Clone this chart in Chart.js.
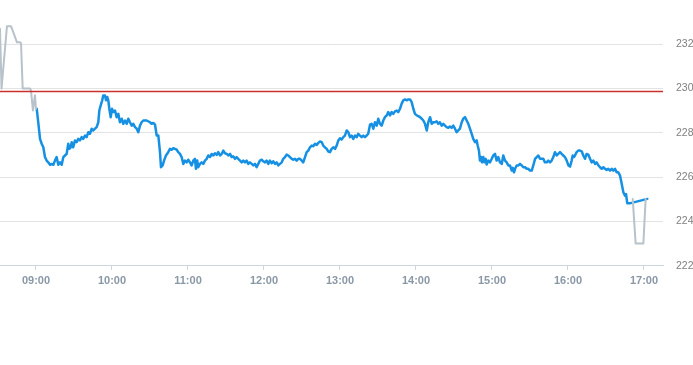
<!DOCTYPE html>
<html>
<head>
<meta charset="utf-8">
<script src="https://cdn.jsdelivr.net/npm/chart.js@4/dist/chart.umd.min.js"></script>
<style>
html,body{margin:0;padding:0;background:#fff;overflow:hidden;}
canvas{display:block;}
</style>
</head>
<body>
<canvas id="c" width="693" height="365"></canvas>
<script>
// Time values are minutes since midnight
const preMinutes = [511.6, 512.8, 517.1, 520.3, 525.0, 527.4, 528.2, 529.5, 535.3, 536.1, 537.6, 539.2, 540.0];
const preValues  = [232.70, 230.00, 232.82, 232.82, 232.09, 232.09, 232.05, 230.01, 230.01, 229.90, 229.01, 229.70, 229.09];

const postMinutes = [1011.1, 1013.4, 1019.5, 1021.3];
const postValues  = [225.02, 223.01, 223.01, 225.02];

const mainMinutes = [
540.6,541.8,543.2,544.5,545.8,547.1,548.4,549.7,551.1,552.4,553.7,555.0,556.3,557.6,558.9,560.3,561.6,562.9,564.2,565.5,
566.3,567.4,568.2,569.4,570.8,572.1,573.4,574.7,576.1,577.3,578.7,580.0,581.3,582.6,584.0,585.2,586.6,587.9,589.2,590.0,
591.1,592.3,593.1,594.5,595.3,596.3,597.1,597.9,599.0,600.0,601.0,602.4,603.7,605.0,606.3,607.7,608.9,610.3,611.6,612.9,
614.2,615.6,616.8,618.2,619.5,620.8,622.1,623.4,624.7,627.4,630.0,631.3,632.6,634.0,635.3,636.6,637.9,638.7,640.0,641.1,
642.6,644.4,645.8,647.1,648.4,649.7,651.1,652.3,653.7,655.0,656.3,657.6,659.0,660.2,661.6,662.9,664.2,665.5,666.3,667.3,
668.1,669.5,670.8,672.1,673.4,674.8,676.0,677.4,678.7,680.0,681.3,682.7,683.9,685.3,686.6,687.9,689.2,690.6,691.8,693.2,
694.5,695.8,697.1,698.4,699.7,701.1,702.4,703.7,705.0,706.3,707.6,708.9,710.3,711.6,712.9,714.2,715.5,716.8,718.2,719.4,
720.8,722.1,723.4,724.7,726.1,727.3,728.7,730.0,731.3,732.6,734.0,735.2,736.6,737.9,739.2,740.5,741.9,743.1,744.5,745.8,
747.1,748.4,749.8,751.0,752.4,753.7,755.0,756.3,757.7,758.9,760.3,761.6,762.9,764.2,765.6,766.8,768.2,769.5,770.8,772.1,
773.4,774.7,776.1,777.4,778.7,780.0,781.3,782.6,783.9,785.3,786.6,787.9,789.2,790.5,791.8,793.2,794.4,795.8,797.1,798.4,
799.7,801.1,802.3,803.7,805.0,806.3,807.6,809.0,810.2,811.6,812.9,814.2,815.5,816.9,818.1,819.5,820.8,822.1,823.4,824.8,
826.0,827.4,828.7,830.0,831.3,832.7,833.9,835.3,836.6,837.9,839.2,840.6,841.8,843.2,844.5,845.8,847.1,848.5,849.7,851.1,
852.4,853.7,855.0,856.3,857.6,858.9,860.3,861.6,862.9,864.2,865.5,866.8,868.2,869.4,870.8,872.1,873.4,874.7,876.1,877.3,
878.7,880.0,881.3,882.6,884.0,885.2,886.6,887.9,888.7,889.7,890.5,891.3,892.1,893.1,893.9,895.0,895.8,897.1,898.4,899.8,
901.0,902.4,903.7,905.0,906.3,907.7,908.9,910.3,911.6,912.9,914.2,915.6,916.4,917.4,918.2,919.5,920.8,922.1,923.5,924.7,
926.1,927.4,928.7,930.0,931.4,932.6,934.0,935.3,936.6,937.9,939.2,940.5,941.8,943.2,944.4,945.8,947.1,948.4,949.7,951.1,
952.3,953.7,955.0,956.3,957.6,959.0,960.3,961.6,962.9,963.7,964.7,965.5,966.8,968.1,969.5,970.8,972.1,973.4,974.7,976.0,
977.4,978.7,980.0,981.4,982.6,984.0,985.3,986.6,987.9,989.2,990.5,991.8,993.2,994.5,995.8,997.1,998.5,999.7,1001.1,1002.4,
1003.7,1005.0,1005.8,1006.8,1008.9,1010.3,1022.6
];
const mainValues = [
229.09,228.48,227.73,227.51,227.35,226.91,226.75,226.67,226.56,226.60,226.56,226.75,226.91,226.56,226.67,226.56,226.91,226.98,227.05,227.51,
227.28,227.35,227.58,227.35,227.66,227.58,227.73,227.66,227.81,227.73,227.88,227.81,228.03,227.96,228.19,228.11,228.19,228.26,228.48,229.01,
229.24,229.47,229.69,229.69,229.47,229.62,229.47,229.09,228.71,229.09,228.94,229.01,228.71,228.86,228.48,228.64,228.41,228.56,228.41,228.64,
228.48,228.33,228.41,228.26,228.19,228.03,228.33,228.48,228.56,228.56,228.48,228.41,228.45,228.37,227.88,227.88,227.13,226.45,226.53,226.75,
226.98,227.13,227.28,227.24,227.31,227.28,227.24,227.13,227.05,226.91,226.60,226.75,226.67,226.79,226.67,226.53,226.75,226.83,226.38,226.75,
226.45,226.60,226.67,226.60,226.75,226.83,226.98,226.91,227.05,226.98,227.08,227.01,227.13,226.98,227.05,227.20,227.08,227.05,226.98,227.05,
226.91,226.94,226.83,226.91,226.83,226.75,226.67,226.75,226.67,226.75,226.60,226.67,226.60,226.53,226.60,226.45,226.60,226.75,226.79,226.72,
226.67,226.75,226.60,226.75,226.63,226.72,226.60,226.67,226.53,226.60,226.67,226.83,226.91,227.02,226.98,226.91,226.83,226.79,226.83,226.75,
226.83,226.83,226.75,226.67,226.91,227.13,227.20,227.35,227.43,227.40,227.51,227.46,227.55,227.61,227.58,227.43,227.35,227.28,227.16,227.13,
227.28,227.35,227.28,227.43,227.66,227.76,227.70,227.81,227.88,228.11,228.03,227.81,227.88,227.73,227.88,227.81,227.96,227.88,227.81,227.88,
227.81,227.88,227.96,228.37,228.41,228.19,228.48,228.33,228.64,228.41,228.33,228.56,228.71,228.79,228.94,228.79,228.94,228.86,228.97,229.01,
228.94,229.09,229.32,229.47,229.51,229.47,229.51,229.51,229.39,229.09,228.86,228.79,228.76,228.71,228.64,228.56,228.41,228.11,228.48,228.71,
228.41,228.48,228.48,228.52,228.41,228.48,228.33,228.41,228.33,228.26,228.23,228.29,228.23,228.33,228.19,228.03,228.11,228.19,228.48,228.64,
228.71,228.56,228.41,228.19,227.96,227.73,227.58,227.66,227.43,227.20,226.75,226.91,226.67,226.91,226.67,226.83,226.57,226.75,226.67,226.83,
226.98,227.05,226.75,226.91,226.67,226.60,226.98,226.75,226.67,226.53,226.53,226.30,226.42,226.22,226.38,226.53,226.53,226.60,226.53,226.45,
226.45,226.38,226.38,226.30,226.30,226.53,226.83,226.91,226.98,226.83,226.83,226.83,226.67,226.67,226.75,226.67,226.75,226.91,227.13,226.98,
227.05,227.13,227.05,226.98,226.91,226.75,226.53,226.48,226.75,226.98,226.91,226.98,227.13,227.20,227.20,227.17,226.98,226.83,227.05,227.02,
226.83,226.67,226.75,226.60,226.67,226.53,226.45,226.38,226.45,226.38,226.33,226.38,226.30,226.38,226.30,226.38,226.22,226.22,226.07,225.70,
225.32,225.17,225.24,224.82,224.82,224.84,225.02
];

const previousClose = 229.87;
const xMin = 511.6, xMax = 1035;
const hourTicks = [540, 600, 660, 720, 780, 840, 900, 960, 1020];
const priceTicks = [222, 224, 226, 228, 230, 232];
const priceMin = 222, priceMax = 234;

const toXY = (ms, vs) => ms.map((m, i) => ({x: m, y: vs[i]}));
const fmt = m => {
  const h = Math.floor(m / 60), mm = Math.round(m % 60);
  return String(h).padStart(2, '0') + ':' + String(mm).padStart(2, '0');
};

new Chart(document.getElementById('c'), {
  type: 'line',
  data: {
    datasets: [
      {data: [{x: xMin, y: previousClose}, {x: xMax, y: previousClose}], borderColor: '#c9302c', borderWidth: 1.3, pointRadius: 0},
      {data: toXY(preMinutes, preValues), borderColor: '#b8c2ca', borderWidth: 2, pointRadius: 0},
      {data: toXY(postMinutes, postValues), borderColor: '#b8c2ca', borderWidth: 2, pointRadius: 0},
      {data: toXY(mainMinutes, mainValues), borderColor: '#1590e3', borderWidth: 2.5, pointRadius: 0}
    ]
  },
  options: {
    responsive: false,
    animation: false,
    events: [],
    layout: {padding: {left: 0, right: 0, top: 0, bottom: 72}},
    plugins: {legend: {display: false}, tooltip: {enabled: false}},
    elements: {line: {tension: 0, borderJoinStyle: 'round', borderCapStyle: 'round'}},
    scales: {
      x: {
        type: 'linear',
        min: xMin, max: xMax,
        afterBuildTicks: s => { s.ticks = hourTicks.map(v => ({value: v})); },
        grid: {drawOnChartArea: false, drawTicks: true, tickLength: 4, color: '#ccd5dc'},
        border: {color: '#ccd5dc'},
        ticks: {
          callback: v => fmt(v),
          color: '#8a98a6', font: {family: 'Liberation Sans, Arial, sans-serif', size: 11, weight: 'bold'},
          padding: 5, maxRotation: 0, autoSkip: false
        }
      },
      y: {
        position: 'right',
        min: priceMin, max: priceMax,
        afterBuildTicks: s => { s.ticks = priceTicks.map(v => ({value: v})); },
        afterFit: s => { s.width = 30; s.paddingTop = 0; s.paddingBottom = 0; },
        grid: {drawTicks: false, color: '#e3e3e3'},
        border: {display: false},
        ticks: {
          color: '#808080', font: {family: 'Liberation Sans, Arial, sans-serif', size: 10.5},
          padding: 13, crossAlign: 'near'
        }
      }
    }
  }
});
</script>
</body>
</html>
